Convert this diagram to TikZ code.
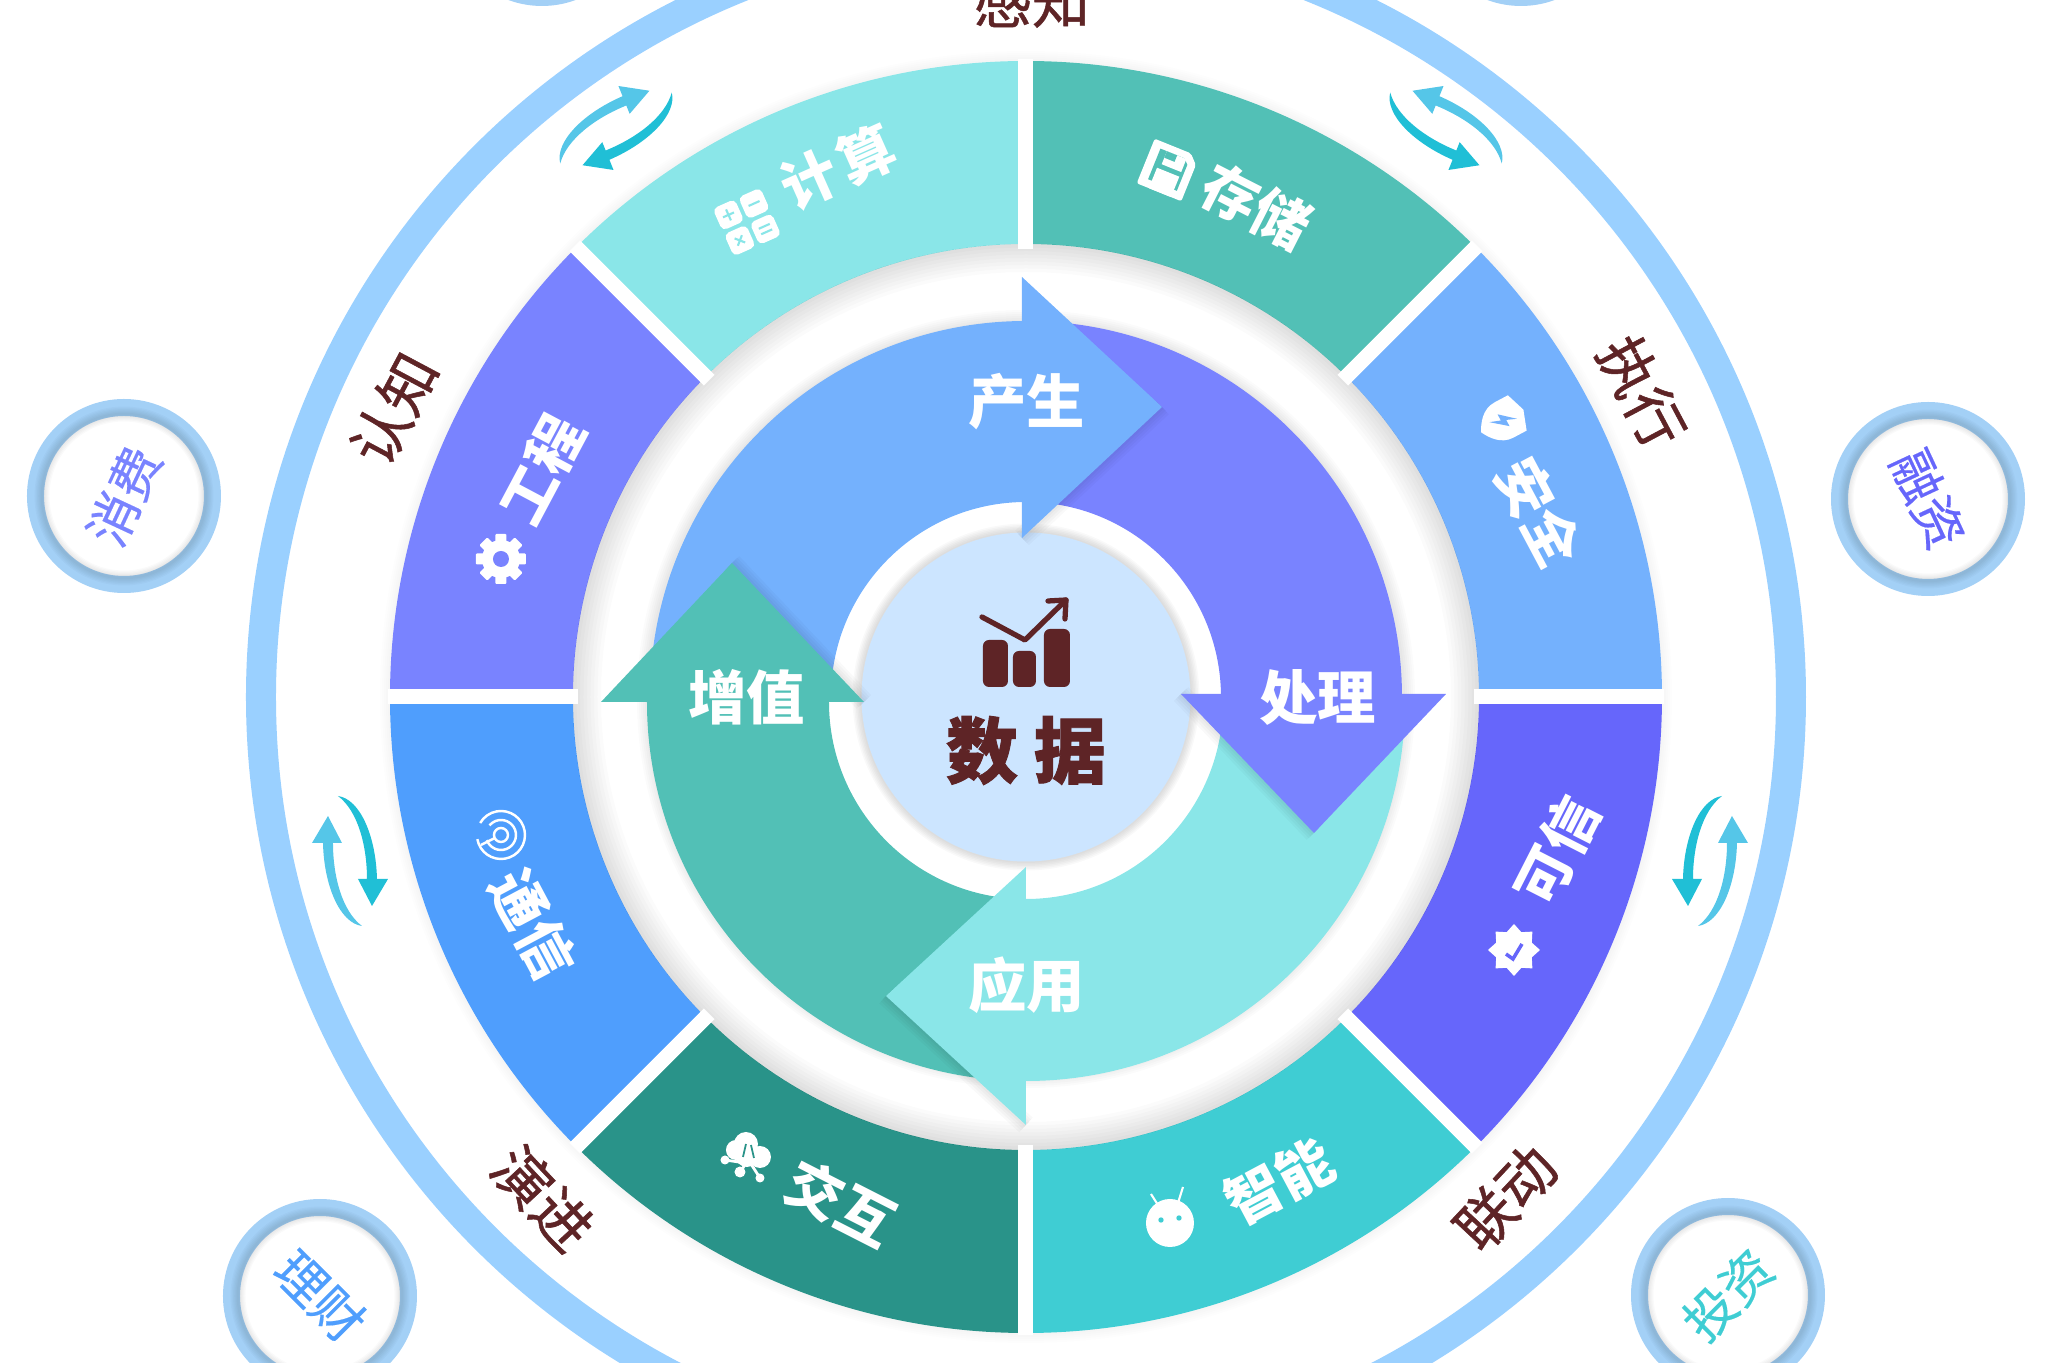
\documentclass[tikz,border=0pt]{standalone}
\usepackage{fontspec}
\usepackage{xcolor}
\usepackage{tikz}
\usetikzlibrary{
    shapes,
    calc,
    positioning,
}
\newfontfamily\cjk{Noto Sans CJK SC}
\newfontfamily\cjkmid[FakeBold=0.9]{Noto Sans CJK SC}
\newfontfamily\cjkthin[FakeBold=0.3]{Noto Sans CJK SC}
\newfontfamily\cjkheavy[BoldFeatures={FakeBold=1.2}]{Noto Sans CJK SC}
\definecolor{ringBlue}{HTML}{9AD0FF}
\definecolor{coinBlue}{HTML}{A3D0F6}
\definecolor{discBlue}{HTML}{CCE5FF}
\definecolor{brownText}{HTML}{5E2426}
\definecolor{segCalc}{HTML}{8AE6E8}
\definecolor{segStore}{HTML}{52C0B6}
\definecolor{segSafe}{HTML}{74B1FD}
\definecolor{segTrust}{HTML}{6666FB}
\definecolor{segSmart}{HTML}{3FCDD3}
\definecolor{segTalk}{HTML}{299389}
\definecolor{segComm}{HTML}{4F9EFD}
\definecolor{segEng}{HTML}{7983FF}
\definecolor{swapDark}{HTML}{20BFD6}
\definecolor{swapLight}{HTML}{55C6E8}

\begin{document}
\begin{tikzpicture}[>=stealth,
    swapPath/.style={insert path={
        (-0.12,0.65) .. controls (0.10,0.62) and (0.26,0.25) .. (0.27,-0.18)
            -- (0.38,-0.18) -- (0.22,-0.45) -- (0.08,-0.18) -- (0.17,-0.18)
            .. controls (0.17,0.15) and (0.08,0.50) .. cycle}}]

    \tikzstyle{segLabel}=[font=\cjk\bfseries\fontsize{16}{16}\selectfont, text=white, inner sep=0pt]
    \tikzstyle{flowLabel}=[segLabel, font=\cjk\bfseries\fontsize{16.6}{17}\selectfont]
    \tikzstyle{outerLabel}=[font=\cjkmid\fontsize{16.5}{17}\selectfont, text=brownText, inner sep=0pt]
    \tikzstyle{coinLabel}=[font=\cjkthin\fontsize{14.5}{15}\selectfont, inner sep=0pt]
    \tikzstyle{softShadow}=[draw=black, opacity=0.015]

    \useasboundingbox (-10.26,-6.66) rectangle (10.20,6.97);
    \clip (-10.26,-6.66) rectangle (10.20,6.97);

    \begin{scope}
        \def \rOut {6.36}
        \def \rIn {4.53}
        \def \rFlowOut {3.76}
        \def \rFlowIn {1.95}

        % Outer ring
        \draw[ringBlue, line width=0.30cm] (0,0) circle (7.65);

        % Small circles
        \foreach \x/\y in {-9.02/2.01, 9.02/1.98, -7.06/-5.99, 7.02/-5.98, -4.84/7.88, 4.95/7.88} {
            \draw[coinBlue, fill=white, line width=0.17cm] (\x,\y) circle (0.885);
            \foreach \s in {1,...,6}
                \draw[black, opacity=0.02, line width=\s*0.025cm] (\x,\y) circle (0.82);
        }

        % Segments
        \foreach \s in {1,...,5}
            \draw[softShadow, opacity=0.008, line width=\s*0.04cm] (0,0) circle (\rOut);
        \foreach \a/\c in {90/segCalc, 45/segStore, 0/segSafe, -45/segTrust, -90/segSmart, -135/segTalk, 180/segComm, 135/segEng}
            \fill[\c] (\a:\rOut) arc (\a:\a+45:\rOut) -- (\a+45:\rIn) arc (\a+45:\a:\rIn) -- cycle;
        \foreach \s in {1,...,8}
            \draw[softShadow, line width=\s*0.035cm] (0,0) circle ({\rIn-\s*0.0175});
        \foreach \a in {0,45,...,315}
            \draw[white, line width=0.15cm] (\a:4.48) -- (\a:6.38);

        % Swap arrows
        \foreach \x/\y/\rt/\sx in {-6.76/-1.64/0/1, 6.84/-1.64/0/-1, -4.10/5.69/-68/1, 4.20/5.69/68/-1} {
            \begin{scope}[shift={(\x,\y)}, rotate=\rt, xscale=\sx]
                \fill[swapDark, swapPath];
                \fill[swapLight, rotate=180, swapPath];
            \end{scope}
        }

        % Flow bodies
        \foreach \s in {1,...,6} {
            \draw[softShadow, line width=\s*0.04cm] (0,-0.02) circle (\rFlowOut+0.01);
        }
        \fill[segSafe] (180:\rFlowOut) arc (180:90:\rFlowOut) -- (90:\rFlowIn) arc (90:180:\rFlowIn) -- cycle;
        \fill[segEng] (90:\rFlowOut) arc (90:0:\rFlowOut) -- (0:\rFlowIn) arc (0:90:\rFlowIn) -- cycle;
        \fill[segCalc] (0,-0.05) ++(0:3.79) arc (0:-90:3.79) -- ++(0,1.82) arc (-90:0:1.97) -- cycle;
        \fill[segStore] (0,-0.05) ++(180:3.79) arc (180:270:3.79) -- ++(0,1.82) arc (270:180:1.97) -- cycle;

        % Centre disc
        \foreach \s in {1,...,6}
            \draw[softShadow, line width=\s*0.03cm, opacity=0.022] (0,0) circle (1.645);
        \fill[discBlue] (0,0) circle (1.645);

        % Flow heads
        \foreach \s in {1,...,4} {
            \draw[softShadow, line width=\s*0.05cm, opacity=0.025] (1.36,2.90) -- (-0.04,1.59);
            \draw[softShadow, line width=\s*0.05cm, opacity=0.025] (2.88,-1.36) -- (1.55,0.03);
            \draw[softShadow, line width=\s*0.05cm, opacity=0.025] (-1.40,-2.99) -- (0,-4.28);
            \draw[softShadow, line width=\s*0.05cm, opacity=0.025] (-2.94,1.34) -- (-1.62,-0.05);
        }
        \fill[segSafe] (-0.04,4.20) -- (1.36,2.90) -- (-0.04,1.59) -- cycle;
        \fill[segEng] (4.20,0.03) -- (2.88,-1.36) -- (1.55,0.03) -- cycle;
        \fill[segCalc] (0,-1.70) -- (-1.40,-2.99) -- (0,-4.28) -- cycle;
        \fill[segStore] (-4.25,-0.05) -- (-2.94,1.34) -- (-1.62,-0.05) -- cycle;

        % Chart icon
        \fill[brownText, rounded corners=0.06cm] (-0.43,0.10) rectangle (-0.18,0.57);
        \fill[brownText, rounded corners=0.06cm] (-0.13,0.10) rectangle (0.10,0.46);
        \fill[brownText, rounded corners=0.06cm] (0.18,0.10) rectangle (0.44,0.68);
        \coordinate (chartA) at (-0.44,0.80);
        \coordinate (chartB) at (-0.01,0.57);
        \coordinate (chartC) at (0.40,0.97);
        \draw[brownText, line width=1.5pt, line cap=round, line join=round] (chartA) -- (chartB) -- (chartC);
        \draw[brownText, line width=1.5pt, line cap=round, line join=round] (0.22,0.96) -- (chartC) -- (0.39,0.78);

        % Centre and flow labels
        \node at (0,-0.535) [inner sep=0pt, text=brownText, font=\cjkheavy\bfseries\fontsize{20.5}{21}\selectfont] (DATA) {数\hspace{0.22em}据};
        \node at (0.01,2.95) [flowLabel] (CS) {产生};
        \node at (2.92,0) [flowLabel] (CL) {处理};
        \node at (0.01,-2.88) [flowLabel] (YY) {应用};
        \node at (-2.79,0) [flowLabel] (ZZ) {增值};

        % Segment labels
        \node at (-1.88,5.30) [segLabel, rotate=24] (JS) {计\hspace{0.1em}算};
        \node at (2.30,4.91) [segLabel, rotate=-27] (CC) {存储};
        \node at (5.13,1.85) [segLabel, rotate=-62] (AQ) {安全};
        \node at (5.31,-1.54) [segLabel, rotate=63] (KX) {可信};
        \node at (2.53,-4.84) [segLabel, rotate=28] (ZN) {智能};
        \node at (-1.85,-5.06) [segLabel, rotate=-27] (JH) {交互};
        \node at (-4.93,-2.27) [segLabel, rotate=-62] (TX) {通信};
        \node at (-4.84,2.27) [segLabel, rotate=62] (GC) {工程};

        % Outer labels
        \node at (0.06,6.96) [outerLabel] (GZ) {感知};
        \node at (-6.32,2.88) [outerLabel, rotate=62] (RZ) {认知};
        \node at (6.16,3.05) [outerLabel, rotate=-62] (ZX) {执行};
        \node at (-4.83,-5.01) [outerLabel, rotate=-47] (YJ) {演进};
        \node at (4.80,-5.01) [outerLabel, rotate=47] (LD) {联动};

        % Circle labels
        \node at (-9.02,2.01) [coinLabel, text=segEng, rotate=65] (XF) {消费};
        \node at (9.02,1.98) [coinLabel, text=segTrust, rotate=-65] (RZI) {融资};
        \node at (-7.06,-5.99) [coinLabel, text=segComm, rotate=-45] (LC) {理财};
        \node at (7.02,-5.98) [coinLabel, text=segSmart, rotate=45] (TZ) {投资};

        % Icons
        \begin{scope}[shift={(-2.79,4.75)}, rotate=24]
            \foreach \x/\y in {-0.14/-0.14, 0.14/-0.14, -0.14/0.14, 0.14/0.14}
                \fill[white, rounded corners=0.05cm] (\x-0.12,\y-0.12) rectangle (\x+0.12,\y+0.12);
            \draw[segCalc, line width=0.6pt] (-0.2,0.14) -- (-0.08,0.14) (-0.14,0.08) -- (-0.14,0.2);
            \draw[segCalc, line width=0.6pt] (0.08,0.14) -- (0.2,0.14);
            \draw[segCalc, line width=0.6pt] (-0.18,-0.18) -- (-0.1,-0.1) (-0.18,-0.1) -- (-0.1,-0.18);
            \draw[segCalc, line width=0.6pt] (0.08,-0.11) -- (0.2,-0.11) (0.08,-0.17) -- (0.2,-0.17);
        \end{scope}
        \begin{scope}[shift={(1.42,5.27)}, rotate=-22]
            \fill[white, rounded corners=0.02cm] (-0.24,-0.24) -- (0.24,-0.24) -- (0.24,0.15) -- (0.15,0.24) -- (-0.24,0.24) -- cycle;
            \fill[segStore] (-0.15,-0.16) -- (0.16,-0.16) -- (0.16,0.12) -- (0.11,0.17) -- (-0.15,0.17) -- cycle;
            \fill[white] (-0.11,-0.24) rectangle (0.13,-0.02);
            \fill[white] (-0.08,0.03) rectangle (0.13,0.17);
            \fill[segStore] (-0.08,0.1) rectangle (0.03,0.17);
        \end{scope}
        \begin{scope}[shift={(4.78,2.77)}, rotate=-62]
            \fill[white] (0,0.22) -- (0.2,0.15) -- (0.2,0) .. controls (0.2,-0.14) and (0.08,-0.22) .. (0,-0.26)
                .. controls (-0.08,-0.22) and (-0.2,-0.14) .. (-0.2,0) -- (-0.2,0.15) -- cycle;
            \fill[segSafe] (0.05,0.12) -- (-0.08,-0.03) -- (-0.01,-0.03) -- (-0.05,-0.14) -- (0.08,0.02) -- (0.01,0.02) -- cycle;
        \end{scope}
        \node at (4.88,-2.53) [star, star points=8, star point ratio=1.35, fill=white, minimum size=0.52cm, inner sep=0pt] (BADGE) {};
        \draw[segTrust, line width=1pt] (4.80,-2.57) -- (4.87,-2.62) -- (4.96,-2.47);
        \begin{scope}[shift={(1.44,-5.26)}]
            \fill[white] (0,0) circle (0.24);
            \draw[white, line width=0.6pt] (-0.12,0.18) -- (-0.19,0.29) (0.08,0.2) -- (0.13,0.36);
            \fill[segSmart] (-0.09,0.03) circle (0.027) (0.09,0.05) circle (0.027);
        \end{scope}
        \begin{scope}[shift={(-2.79,-4.60)}]
            \fill[white] (-0.11,0.07) circle (0.10) (-0.01,0.13) circle (0.12) (0.13,0.0) circle (0.11) (0,0.02) circle (0.12);
            \draw[white, line width=0.8pt] (-0.22,-0.03) -- (-0.08,-0.05) (-0.07,-0.15) -- (0,-0.05) (0.13,-0.21) -- (0.04,-0.07);
            \fill[white] (-0.22,-0.03) circle (0.045) (-0.07,-0.15) circle (0.055) (0.13,-0.21) circle (0.045);
            \draw[segTalk, line width=0.5pt] (-0.04,0.0) -- (-0.01,0.13) (0.04,0.12) -- (0.07,-0.01);
        \end{scope}
        \begin{scope}[shift={(-5.25,-1.38)}]
            \draw[white, line width=0.7pt] (0,0) circle (0.07);
            \draw[white, line width=0.7pt] (-160:0.15) arc (-160:140:0.15);
            \draw[white, line width=0.7pt] (-170:0.24) arc (-170:150:0.24);
            \draw[white, line width=0.7pt] (-0.06,-0.03) -- (-0.2,-0.1);
        \end{scope}
        \begin{scope}[shift={(-5.25,1.38)}]
            \foreach \a in {0,45,...,315}
                \fill[white, rotate=\a, rounded corners=0.01cm] (-0.055,0) rectangle (0.055,0.25);
            \fill[white] (0,0) circle (0.19);
            \fill[segEng] (0,0) circle (0.08);
        \end{scope}
    \end{scope}
\end{tikzpicture}
\end{document}
